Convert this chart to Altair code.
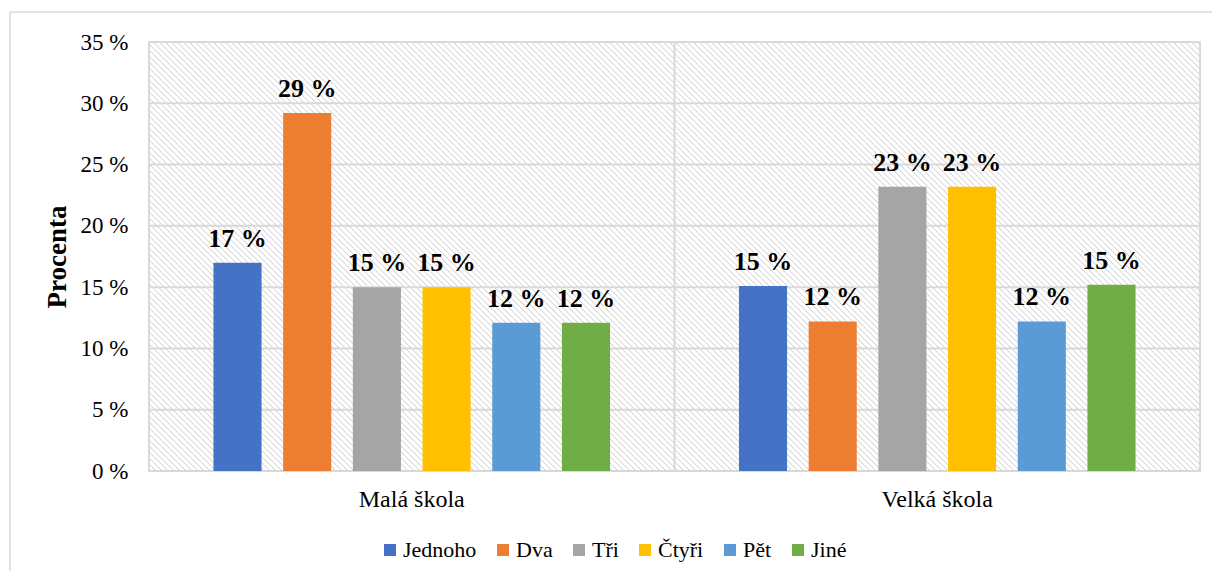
import altair as alt
import pandas as pd

# ---- data ----
groups = ["Malá škola", "Velká škola"]
series = ["Jednoho", "Dva", "Tři", "Čtyři", "Pět", "Jiné"]
mala = [17.0, 29.2, 15.0, 15.0, 12.1, 12.1]
velka = [15.1, 12.2, 23.2, 23.2, 12.2, 15.2]
colors = ["#4472C4", "#ED7D31", "#A5A5A5", "#FFC000", "#5B9BD5", "#70AD47"]
y_ticks = [0, 5, 10, 15, 20, 25, 30, 35]

rows = []
for g, vals in zip(groups, [mala, velka]):
    for s, v in zip(series, vals):
        rows.append({"skola": g, "pocet": s, "procenta": v, "label": f"{round(v)} %"})
df = pd.DataFrame(rows)

W, H = 1051, 429
FONT = "Liberation Serif"
GRID = "#d9d9d9"
HATCH = "#cfcfcf"

# ---- diagonal hatch as a striped linear gradient (45 deg "\" lines) ----
span = W + H
den = W * W + H * H
gx2 = (W + H) * W / den
gy2 = 1 - (W + H) * H / den
period, half = 6.0, 1.1
stops = []
k = 0
while k * period < span:
    a = k * period / span
    b = min((k * period + half) / span, 1)
    c = min((k * period + 2 * half) / span, 1)
    d = min(((k + 1) * period) / span, 1)
    stops += [alt.GradientStop(offset=a, color="white"),
              alt.GradientStop(offset=b, color=HATCH),
              alt.GradientStop(offset=c, color="white"),
              alt.GradientStop(offset=d, color="white")]
    k += 1
hatch = alt.LinearGradient(gradient="linear", stops=stops, x1=0, y1=1, x2=gx2, y2=gy2)

xscale = alt.Scale(domain=groups, paddingInner=0, paddingOuter=0)
yscale = alt.Scale(domain=[0, 35])
x_axis = alt.Axis(title=None, domain=False, ticks=False, grid=False, labelAngle=0,
                  labelPadding=16, labelFontSize=24)
y_axis = alt.Axis(values=y_ticks, labelExpr="datum.value + ' %'", grid=False,
                  domain=False, ticks=False, labelPadding=21, labelFontSize=23,
                  title="Procenta", titleFont=FONT, titleFontWeight="bold",
                  titleFontSize=27, titleColor="black", titleX=-92, titleY=H / 2,
                  titleAngle=-90, titleAlign="center", titleBaseline="middle")

bg = alt.Chart(alt.Data(values=[{}])).mark_rect(
    fill=hatch, stroke=GRID, strokeWidth=2
).encode(x=alt.value(0), x2=alt.value(W), y=alt.value(0), y2=alt.value(H))

grid = alt.Chart(pd.DataFrame({"v": y_ticks})).mark_rule(
    color=GRID, strokeWidth=2
).encode(y=alt.Y("v:Q", scale=yscale, axis=y_axis))

sep = alt.Chart(pd.DataFrame({"skola": [groups[1]]})).mark_rule(
    color=GRID, strokeWidth=2
).encode(x=alt.X("skola:N", scale=xscale, axis=x_axis, bandPosition=0))

base = alt.Chart(df).encode(
    x=alt.X("skola:N", scale=xscale, axis=x_axis),
    xOffset=alt.XOffset("pocet:N", scale=alt.Scale(domain=series, paddingInner=0.31,
                                                    paddingOuter=0.925)),
    y=alt.Y("procenta:Q", scale=yscale, axis=y_axis),
)

bars = base.mark_bar().encode(
    color=alt.Color("pocet:N", scale=alt.Scale(domain=series, range=colors),
                    legend=alt.Legend(orient="none", legendX=230, legendY=497,
                                      direction="horizontal", columns=6, title=None,
                                      symbolType="square", symbolSize=144,
                                      symbolStrokeWidth=0, labelFont=FONT,
                                      labelFontSize=22, labelColor="black",
                                      columnPadding=15, labelOffset=2))
)

labels = base.mark_text(font=FONT, fontSize=26, fontWeight="bold", color="black",
                        baseline="alphabetic", dy=-16).encode(text="label:N")

frame_top = alt.Chart(alt.Data(values=[{}])).mark_rule(color=GRID, strokeWidth=1.5).encode(
    x=alt.value(-139), x2=alt.value(W + 30), y=alt.value(-30))
frame_left = alt.Chart(alt.Data(values=[{}])).mark_rule(color=GRID, strokeWidth=1.5).encode(
    x=alt.value(-139), y=alt.value(-30), y2=alt.value(H + 140))

chart = alt.layer(frame_top, frame_left, bg, grid, sep, bars, labels).properties(
    width=W, height=H,
    autosize=alt.AutoSizeParams(type="none"),
    padding={"left": 141, "top": 34, "right": 12, "bottom": 100},
).configure_view(stroke=None).configure_axis(
    labelFont=FONT, labelColor="black"
).configure_legend(labelFont=FONT, labelFontSize=22, labelColor="black")

chart.save("out.html", embed_options={"renderer": "svg", "actions": False})
